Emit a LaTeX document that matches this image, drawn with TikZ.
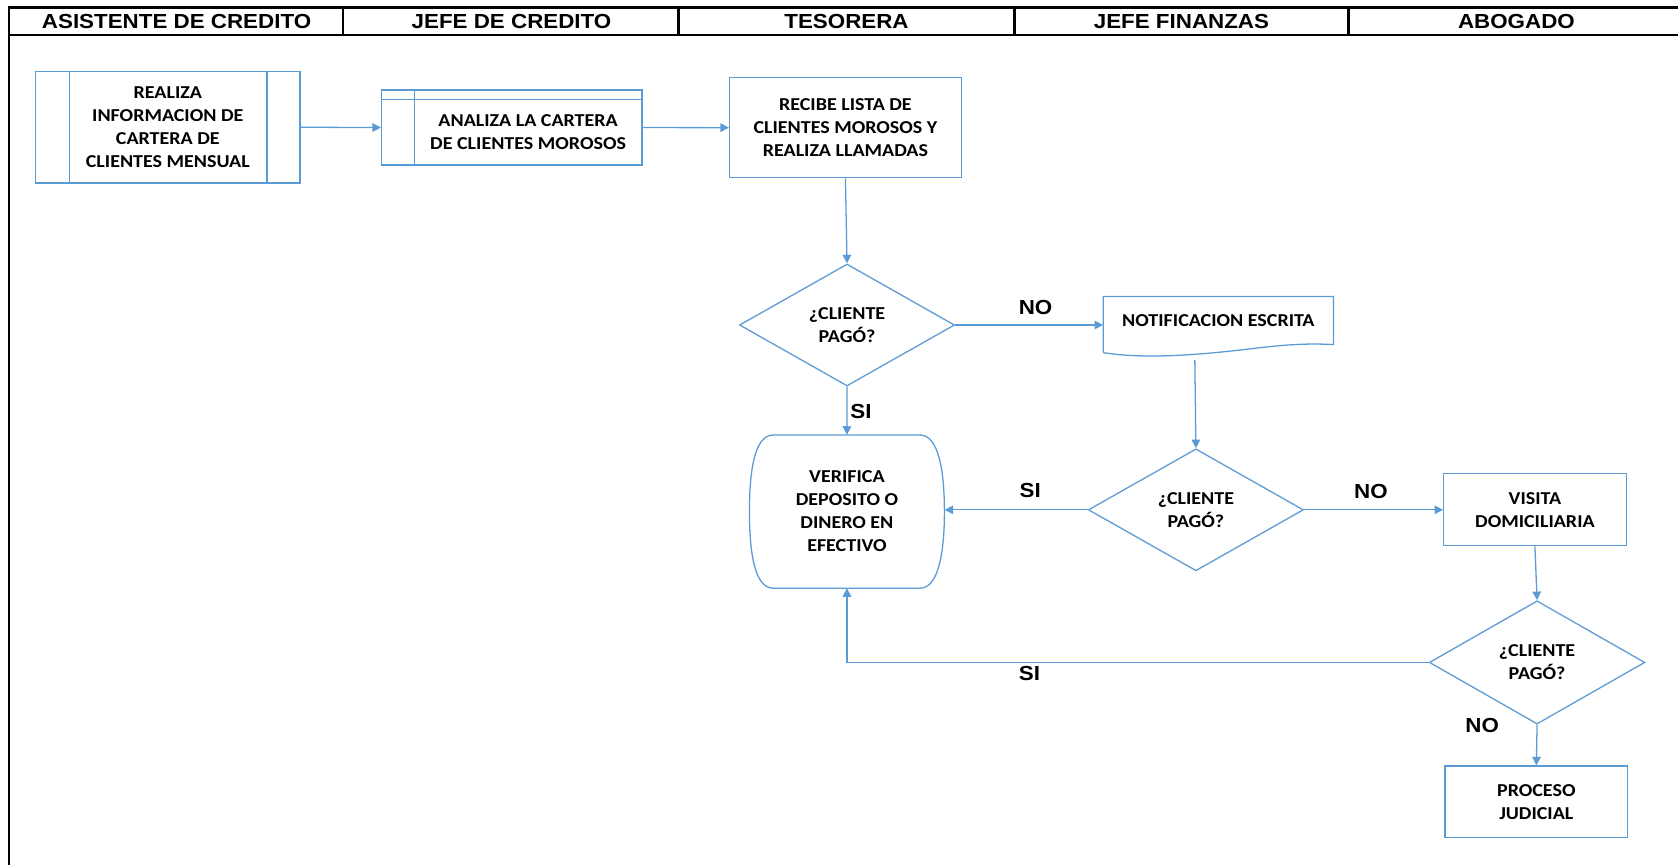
\documentclass[tikz,border=0pt]{standalone}
\usepackage{fontspec}
\setmainfont{Liberation Sans}
\newfontfamily\hdrfont{Liberation Sans}[FakeStretch=1.1]
\newfontfamily\boxfont{Carlito}[FakeStretch=1.1]
\usetikzlibrary{shapes.geometric,arrows.meta,calc}
\definecolor{flowblue}{HTML}{5B9BD5}
\tikzset{
  lane/.style={draw=black,line width=2.5pt},
  hdr/.style={font=\hdrfont\bfseries\fontsize{19}{22}\selectfont,inner sep=0},
  lbl/.style={font=\hdrfont\bfseries\fontsize{19}{22}\selectfont,inner sep=0},
  boxtxt/.style={font=\boxfont\bfseries\fontsize{17}{21.5}\selectfont,align=center,text=black},
  proc/.style={boxtxt,draw=flowblue,line width=1.2pt,rectangle,inner sep=0},
  plain/.style={boxtxt,rectangle,inner sep=0},
  dec/.style={boxtxt,draw=flowblue,line width=1.2pt,diamond,aspect=1.75,inner sep=0},
  flow/.style={draw=flowblue,line width=1.2pt,-{Triangle[length=8pt,width=8pt]}},
  outline/.style={draw=flowblue,line width=1.2pt},
}
\begin{document}
\begin{tikzpicture}[x=1pt,y=-1pt]
\useasboundingbox (0,0) rectangle (1568,808);
% lanes
\draw[lane] (1568,6.9) -- (8.3,6.9) -- (8.3,808);
\draw[lane] (8.3,32.7) -- (1568,32.7);
\foreach \xx in {320.4,634,947.7,1260}{\draw[lane] (\xx,6.9) -- (\xx,32.7);}
\node[hdr] (h1) at (165,20) {ASISTENTE DE CREDITO};
\node[hdr] (h2) at (478,20) {JEFE DE CREDITO};
\node[hdr] (h3) at (791,20) {TESORERA};
\node[hdr] (h4) at (1104,20) {JEFE FINANZAS};
\node[hdr] (h5) at (1417,20) {ABOGADO};

% nodes
\node[proc,minimum width=247pt,minimum height=104pt] (a) at (156.8,118.9)
  {REALIZA\\INFORMACION DE\\CARTERA DE\\CLIENTES MENSUAL};
\draw[outline] (64.7,67) -- (64.7,170.7);
\draw[outline] (249.5,67) -- (249.5,170.7);

\node[proc,minimum width=243.3pt,minimum height=70pt] (b) at (478.3,119.2) {};
\draw[outline] (356.7,92.8) -- (600,92.8);
\draw[outline] (387.1,84.1) -- (387.1,154.2);
\node[boxtxt] (btxt) at (493.5,123) {ANALIZA LA CARTERA\\DE CLIENTES MOROSOS};

\node[proc,minimum width=216.5pt,minimum height=93.4pt] (c) at (790,119.3)
  {RECIBE LISTA DE\\CLIENTES MOROSOS Y\\REALIZA LLAMADAS};

\node[dec,minimum width=201pt,minimum height=114pt] (d1) at (791.5,303.7) {¿CLIENTE\\PAGÓ?};

\node[plain,minimum width=215pt,minimum height=46pt] (doc) at (1138.5,300) {NOTIFICACION ESCRITA};
\draw[outline] (1031,329.5) -- (1031,277) -- (1246,277) -- (1246,322)
  .. controls (1228,321) and (1208,321) .. (1168,326)
  .. controls (1110,333) and (1065,335) .. (1031,329.5);

\node[plain,minimum width=182.2pt,minimum height=143pt] (v) at (791.4,478)
  {VERIFICA\\DEPOSITO O\\DINERO EN\\EFECTIVO};
\draw[outline] (722.5,406.5) -- (859.7,406.5)
  .. controls (877,406.5) and (882.5,440) .. (882.5,478)
  .. controls (882.5,516) and (877,549.6) .. (859.7,549.6)
  -- (722.5,549.6)
  .. controls (705,549.6) and (700.3,516) .. (700.3,478)
  .. controls (700.3,440) and (705,406.5) .. (722.5,406.5) -- cycle;

\node[dec,minimum width=201pt,minimum height=114pt] (d2) at (1117.5,476.4) {¿CLIENTE\\PAGÓ?};

\node[proc,minimum width=170.5pt,minimum height=67.7pt] (vis) at (1434.3,476.2)
  {VISITA\\DOMICILIARIA};

\node[dec,minimum width=201.4pt,minimum height=115.2pt] (d3) at (1436.3,619) {¿CLIENTE\\PAGÓ?};

\node[proc,minimum width=170.7pt,minimum height=66.7pt] (pj) at (1435.6,749.2)
  {PROCESO\\JUDICIAL};

% connectors
\draw[flow] (a.east) -- (b.west);
\draw[flow] (b.east) -- (c.west);
\draw[flow] (c.south) -- (d1.north);
\draw[flow] (d1.east) -- (d1.east -| doc.west);
\draw[flow] (d1.south) -- (v.north);
\coordinate (docb) at (1116.5,336.5);
\draw[flow] (docb) -- (d2.north);
\draw[flow] (d2.west) -- (d2.west -| v.east);
\draw[flow] (d2.east) -- (d2.east -| vis.west);
\draw[flow] (vis.south) -- (d3.north);
\draw[flow] (d3.west) -| (v.south);
\draw[flow] (d3.south) -- (pj.north);

% labels
\node[lbl] (l1) at (967.7,287.4) {NO};
\node[lbl] (l2) at (804.5,384.7) {SI};
\node[lbl] (l3) at (962.7,458.7) {SI};
\node[lbl] (l4) at (1281,459) {NO};
\node[lbl] (l5) at (962,629) {SI};
\node[lbl] (l6) at (1385,678) {NO};
\end{tikzpicture}
\end{document}
